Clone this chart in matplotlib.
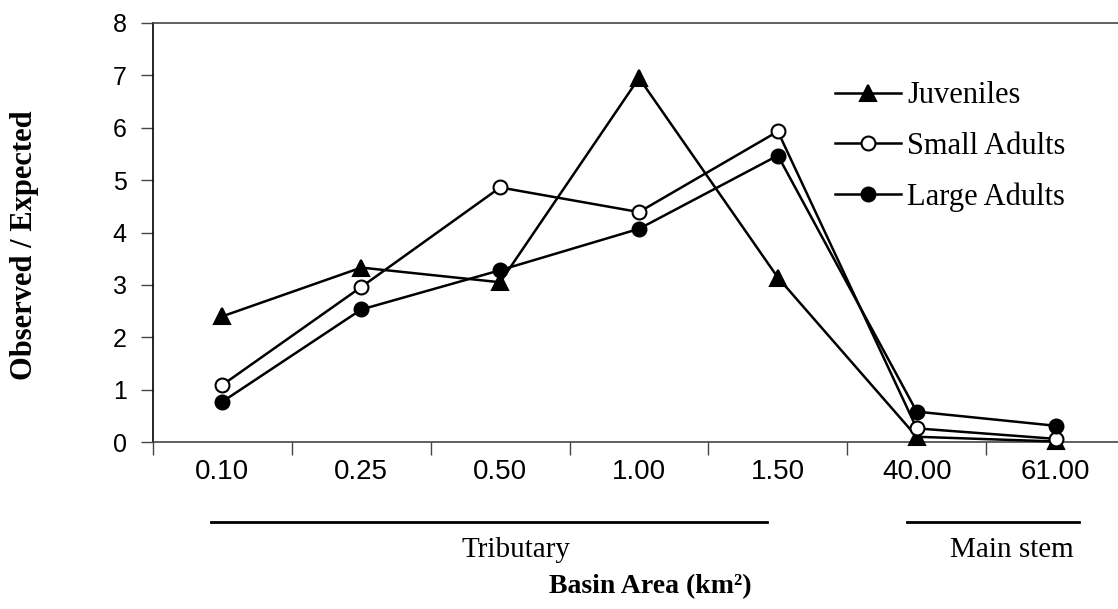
import matplotlib

matplotlib.use("Agg")
import matplotlib.pyplot as plt
from matplotlib.lines import Line2D

# basin area categories (km2)
CATEGORIES = ["0.10", "0.25", "0.50", "1.00", "1.50", "40.00", "61.00"]

# observed / expected ratios
JUVENILES = [2.40, 3.33, 3.05, 6.95, 3.14, 0.10, 0.01]
SMALL_ADULTS = [1.09, 2.96, 4.86, 4.39, 5.93, 0.26, 0.06]
LARGE_ADULTS = [0.77, 2.53, 3.28, 4.07, 5.47, 0.58, 0.31]

SERIES = [
    ("Juveniles", JUVENILES, "^", "black"),
    ("Small Adults", SMALL_ADULTS, "o", "white"),
    ("Large Adults", LARGE_ADULTS, "o", "black"),
]

GROUPS = ["Tributary", "Main stem"]

SERIF = ["Liberation Serif", "DejaVu Serif"]
SANS = ["Liberation Sans", "DejaVu Sans"]

W, H = 1118, 609
fig = plt.figure(figsize=(W / 100, H / 100), dpi=100)
ax = fig.add_axes([153 / W, (H - 442) / H, 972 / W, 419 / H])

x = list(range(len(CATEGORIES)))
for label, values, marker, face in SERIES:
    ax.plot(x, values, color="black", lw=1.8, marker=marker,
            markersize=11.5 if marker == "^" else 10,
            markerfacecolor=face, markeredgecolor="black", markeredgewidth=1.5,
            label=label, clip_on=False, zorder=3)

ax.set_xlim(-0.5, len(CATEGORIES) - 0.5)
ax.set_ylim(0, 8)
ax.set_yticks(range(0, 9))
ax.set_yticklabels([str(v) for v in range(0, 9)], family=SANS, fontsize=18)

# categories on minor ticks, tick marks on category boundaries
ax.set_xticks([i - 0.5 for i in range(len(CATEGORIES) + 1)])
ax.set_xticklabels([])
ax.set_xticks(x, minor=True)
ax.set_xticklabels(CATEGORIES, minor=True, family=SANS, fontsize=20)
ax.tick_params(axis="x", which="minor", length=0, pad=12)
ax.tick_params(axis="x", which="major", length=9, width=1, color="#444444", direction="out")
ax.tick_params(axis="y", length=9, width=1, color="#444444", direction="out", pad=10)

for side in ["left", "bottom", "top", "right"]:
    ax.spines[side].set_color("#444444")
    ax.spines[side].set_linewidth(1.2)
ax.spines["left"].set_color("black")

fig.text(25 / W, 1 - 245 / H, "Observed / Expected", rotation=90,
         ha="center", va="center", family=SERIF, fontweight="bold", fontsize=22)

leg = ax.legend(loc="upper left", bbox_to_anchor=(820 / W, 1 - 66 / H),
                bbox_transform=fig.transFigure, frameon=False, borderpad=0,
                handlelength=2.15, handletextpad=0.2, labelspacing=0.7,
                prop={"family": SERIF, "size": 22})

# group brackets under the tick labels
for x0, x1 in [(211, 767), (907, 1079)]:
    fig.add_artist(Line2D([x0 / W, x1 / W], [1 - 521.7 / H] * 2,
                          transform=fig.transFigure, color="black", lw=2))
fig.text(516 / W, 1 - 550 / H, GROUPS[0], ha="center", va="center",
         family=SERIF, fontsize=21)
fig.text(1012 / W, 1 - 550 / H, GROUPS[1], ha="center", va="center",
         family=SERIF, fontsize=21)
fig.text(650 / W, 1 - 587 / H, "Basin Area (km²)", ha="center", va="center",
         family=SERIF, fontweight="bold", fontsize=20)

fig.savefig("out.png", dpi=100)
